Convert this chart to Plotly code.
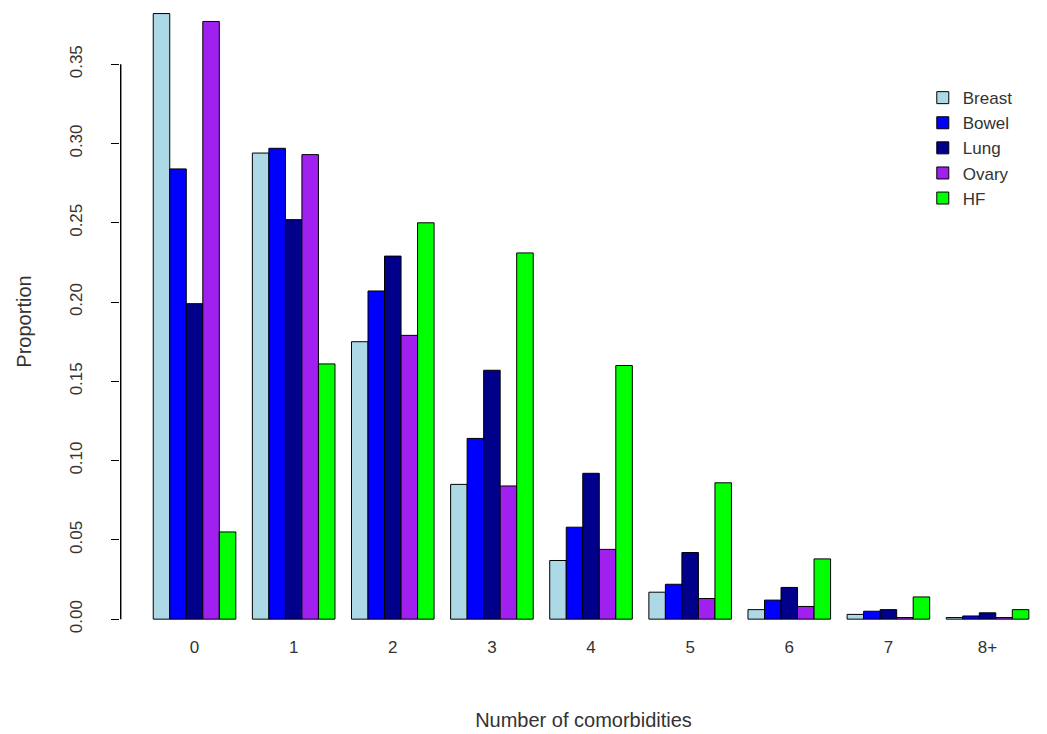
import plotly.graph_objects as go

categories = ["0", "1", "2", "3", "4", "5", "6", "7", "8+"]
series_names = ["Breast", "Bowel", "Lung", "Ovary", "HF"]
colors = ["#ADD8E6", "#0000FF", "#00008B", "#A020F0", "#00FF00"]
breast = [0.382, 0.294, 0.175, 0.085, 0.037, 0.017, 0.006, 0.003, 0.001]
bowel = [0.284, 0.297, 0.207, 0.114, 0.058, 0.022, 0.012, 0.005, 0.002]
lung = [0.199, 0.252, 0.229, 0.157, 0.092, 0.042, 0.020, 0.006, 0.004]
ovary = [0.377, 0.293, 0.179, 0.084, 0.044, 0.013, 0.008, 0.001, 0.001]
hf = [0.055, 0.161, 0.250, 0.231, 0.160, 0.086, 0.038, 0.014, 0.006]
yticks = [0.0, 0.05, 0.10, 0.15, 0.20, 0.25, 0.30, 0.35]

xs = list(range(len(categories)))
fig = go.Figure()
for name, vals, c in zip(series_names, [breast, bowel, lung, ovary, hf], colors):
    fig.add_trace(go.Bar(x=xs, y=vals, name=name, marker=dict(color=c, line=dict(color="black", width=1))))

# y axis line (R style: spans first to last tick only)
fig.add_trace(go.Scatter(x=[-0.745, -0.745], y=[yticks[0], yticks[-1]], mode="lines",
                         line=dict(color="black", width=1.5), showlegend=False,
                         hoverinfo="skip", cliponaxis=False))

font = dict(family="Liberation Sans, Arial", size=17, color="#333")
fig.update_layout(
    width=1039, height=726, barmode="group", bargap=1/6, bargroupgap=0,
    plot_bgcolor="white", paper_bgcolor="white", font=font,
    margin=dict(l=112, r=0, t=0, b=99),
    xaxis=dict(range=[-0.752, 8.6], tickvals=xs, ticktext=categories, showline=False,
               showgrid=False, zeroline=False, ticks="", ticklabelstandoff=0, automargin=False,
               title=dict(text="Number of comorbidities", standoff=56)),
    yaxis=dict(range=[-0.01, 0.3855], tickvals=yticks, ticktext=["%.2f" % v for v in yticks],
               tickangle=-90, ticks="outside", ticklen=8, tickcolor="black", showgrid=False,
               zeroline=False, showline=False, automargin=False, ticklabelstandoff=22,
               title=dict(text="Proportion", standoff=30)),
    legend=dict(x=0.866, y=0.885, xanchor="left", yanchor="top", bgcolor="rgba(0,0,0,0)",
                font=dict(size=17, family="Liberation Sans, Arial"), tracegroupgap=0),
)
fig.write_html("out.html")
